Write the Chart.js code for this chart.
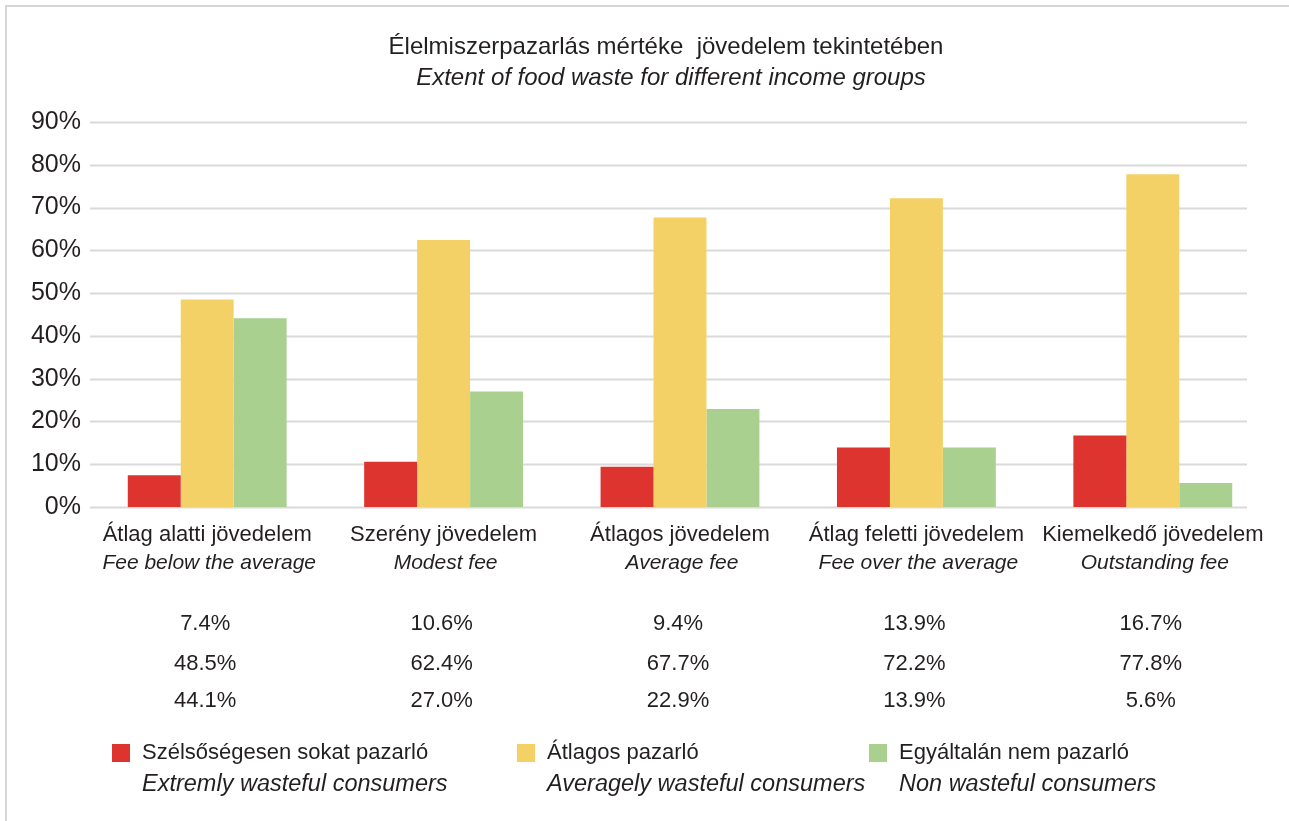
<!DOCTYPE html>
<html>
<head>
<meta charset="utf-8">
<script src="https://cdn.jsdelivr.net/npm/chart.js@4"></script>
<style>
html,body{margin:0;padding:0;background:#fff;}
#wrap{width:1289px;height:821px;position:relative;}
</style>
</head>
<body>
<div id="wrap"><canvas id="c" width="1289" height="821"></canvas></div>
<script>
// ---- data ----
const titleHu = 'Élelmiszerpazarlás mértéke  jövedelem tekintetében';
const titleEn = 'Extent of food waste for different income groups';
const categoriesHu = ['Átlag alatti jövedelem', 'Szerény jövedelem', 'Átlagos jövedelem', 'Átlag feletti jövedelem', 'Kiemelkedő jövedelem'];
const categoriesEn = ['Fee below the average', 'Modest fee', 'Average fee', 'Fee over the average', 'Outstanding fee'];
const seriesHu = ['Szélsőségesen sokat pazarló', 'Átlagos pazarló', 'Egyáltalán nem pazarló'];
const seriesEn = ['Extremly wasteful consumers', 'Averagely wasteful consumers', 'Non wasteful consumers'];
const extremeValues = [7.4, 10.6, 9.4, 13.9, 16.7];
const averageValues = [48.5, 62.4, 67.7, 72.2, 77.8];
const nonValues = [44.1, 27.0, 22.9, 13.9, 5.6];
const yTicks = [0, 10, 20, 30, 40, 50, 60, 70, 80, 90];

const colors = ['#dd3430', '#f4d166', '#a9d08e'];
const FONT = "'Liberation Sans', Arial, sans-serif";
const TXT = '#231f20';
const seriesValues = [extremeValues, averageValues, nonValues];

const framePlugin = {
  id: 'frame',
  beforeDraw(chart) {
    const ctx = chart.ctx;
    ctx.save();
    ctx.fillStyle = '#fff';
    ctx.fillRect(0, 0, chart.width, chart.height);
    ctx.fillStyle = '#d6d6d6';
    ctx.fillRect(5, 5, chart.width - 5, 2);
    ctx.fillRect(5, 5, 2, chart.height - 5);
    ctx.restore();
  }
};

const gridPlugin = {
  id: 'hgrid',
  beforeDatasetsDraw(chart) {
    const ctx = chart.ctx, y = chart.scales.y, a = chart.chartArea;
    ctx.save();
    ctx.strokeStyle = '#dadada';
    ctx.lineWidth = 2;
    yTicks.forEach(v => {
      const py = Math.round(y.getPixelForValue(v)) + 0.5;
      ctx.beginPath();
      ctx.moveTo(a.left + 1, py);
      ctx.lineTo(1247, py);
      ctx.stroke();
    });
    ctx.restore();
  }
};

const textPlugin = {
  id: 'texts',
  afterDraw(chart) {
    const ctx = chart.ctx, x = chart.scales.x;
    ctx.save();
    ctx.fillStyle = TXT;
    ctx.textAlign = 'center';
    ctx.textBaseline = 'middle';
    // title
    ctx.font = '24px ' + FONT;
    ctx.fillText(titleHu, 666, 47);
    ctx.font = 'italic 24px ' + FONT;
    ctx.fillText(titleEn, 671, 78);
    // English category line
    ctx.font = 'italic 21px ' + FONT;
    categoriesEn.forEach((t, i) => ctx.fillText(t, x.getPixelForValue(i) + 2, 563));
    // table
    ctx.font = '22px ' + FONT;
    const rowY = [624, 664, 701];
    seriesValues.forEach((arr, r) => {
      arr.forEach((v, i) => ctx.fillText(v.toFixed(1) + '%', x.getPixelForValue(i) - 2, rowY[r]));
    });
    // legend
    const lx = [112, 517, 869];
    ctx.textAlign = 'left';
    seriesHu.forEach((t, i) => {
      ctx.fillStyle = colors[i];
      ctx.fillRect(lx[i], 744, 18, 18);
      ctx.fillStyle = TXT;
      ctx.font = '22px ' + FONT;
      ctx.fillText(t, lx[i] + 30, 753);
      ctx.font = 'italic 23.5px ' + FONT;
      ctx.fillText(seriesEn[i], lx[i] + 30, 784);
    });
    ctx.restore();
  }
};

new Chart(document.getElementById('c'), {
  type: 'bar',
  data: {
    labels: categoriesHu,
    datasets: seriesHu.map((s, i) => ({
      label: s,
      data: seriesValues[i],
      backgroundColor: colors[i],
      borderWidth: 0,
      barPercentage: 1,
      categoryPercentage: 0.672
    }))
  },
  options: {
    responsive: false,
    animation: false,
    devicePixelRatio: 1,
    layout: { padding: { left: 0, right: 18, top: 122, bottom: 0 } },
    plugins: {
      legend: { display: false },
      tooltip: { enabled: false },
      title: { display: false },
      subtitle: { display: false }
    },
    scales: {
      x: {
        type: 'category',
        offset: true,
        grid: { display: false, drawTicks: false },
        border: { display: false },
        ticks: { color: TXT, font: { family: FONT, size: 22 }, padding: 15, maxRotation: 0, autoSkip: false },
        afterFit(s) { s.height = 314; }
      },
      y: {
        min: 0, max: 90,
        grid: { display: false, drawTicks: false },
        border: { display: false },
        afterBuildTicks(s) { s.ticks = yTicks.map(v => ({ value: v })); },
        ticks: { color: TXT, font: { family: FONT, size: 25 }, padding: 8, callback: v => v + '%' },
        afterFit(s) { s.width = 89; }
      }
    }
  },
  plugins: [framePlugin, gridPlugin, textPlugin]
});
</script>
</body>
</html>
